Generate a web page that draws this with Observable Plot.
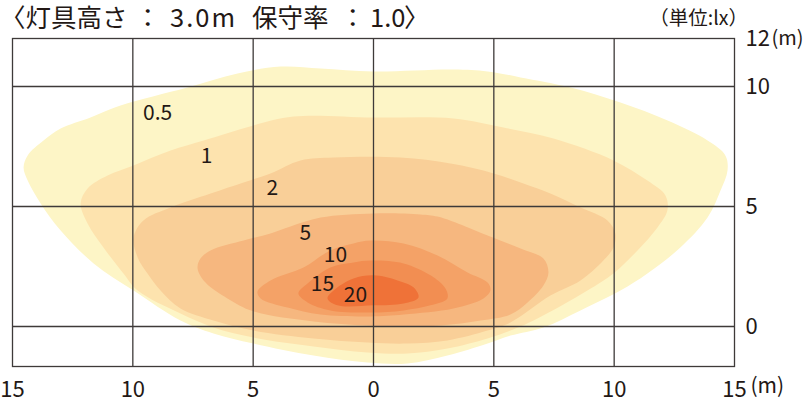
<!DOCTYPE html>
<html>
<head>
<meta charset="utf-8">
<script src="https://cdn.jsdelivr.net/npm/d3@7"></script>
<script src="https://cdn.jsdelivr.net/npm/@observablehq/plot@0.6"></script>
<style>
  html, body { margin: 0; padding: 0; background: #fff; }
  #wrap { position: relative; width: 804px; height: 402px; font-family: "Noto Sans CJK JP", "Noto Sans", sans-serif; color: #231815; }
  #title { position: absolute; left: 0; top: 0.5px; width: 460px; height: 34px; font-size: 25.5px; line-height: 1.2; white-space: nowrap; }
  #title span { position: absolute; top: 0; line-height: 1.2; }
  #unit { position: absolute; right: 56px; top: 7px; font-size: 19.5px; line-height: 1; white-space: nowrap; }
  #chart { position: absolute; left: 0; top: 0; }
</style>
</head>
<body>
<div id="wrap">
  <div id="chart"></div>
  <div id="title"><span style="left:0">〈灯具高さ</span><span style="left:135px">：</span><span style="left:170px;letter-spacing:2px">3.0m</span><span style="left:252px">保守率</span><span style="left:340px">：</span><span style="left:370px">1.0</span><span style="left:404px">〉</span></div>
  <div id="unit">（単位:lx）</div>
</div>
<script>
// Illuminance levels (lx) and band colours
const levels = [0.5, 1, 2, 5, 10, 15, 20];
const colors = ["#fdf5c6", "#fde3ae", "#f9cf98", "#f6b77f", "#f4a267", "#f28e52", "#ef7238"];

// Isolux contour outlines, [x (m), y (m)]
const c05 = [[-14.54,6.63],[-14.37,7.13],[-13.71,7.75],[-13.0,8.25],[-11.76,8.71],[-10.51,9.21],[-7.73,9.96],[-5.65,10.54],[-3.86,10.83],[-2.2,10.75],[0,10.63],[3.32,10.71],[4.74,10.63],[6.11,10.38],[8.19,9.96],[10.26,9.33],[12.22,8.58],[13.88,7.75],[14.62,7.13],[14.71,6.5],[14.42,5.67],[13.88,4.54],[12.75,3.29],[11.38,2.21],[10.26,1.5],[8.6,0.67],[7.06,-0.04],[5.69,-0.38],[4.74,-0.71],[3.07,-1.21],[1.41,-1.54],[-0.25,-1.5],[-2.49,-1.21],[-4.99,-0.71],[-6.65,-0.29],[-8.02,0.25],[-9.97,1.5],[-11.63,2.63],[-13.0,4.0],[-13.83,5.13],[-14.37,6.08]];
const c1 = [[-12.17,5.13],[-11.88,5.75],[-11.05,6.29],[-9.97,6.71],[-8.43,7.33],[-7.06,7.75],[-4.99,8.38],[-3.32,8.75],[0,8.71],[3.32,8.67],[5.4,8.29],[7.48,7.83],[9.97,6.92],[11.38,6.08],[12.13,5.46],[12.21,4.83],[11.8,4.13],[10.97,3.17],[9.97,2.21],[8.89,1.5],[6.65,0.25],[5.69,-0.17],[4.74,-0.5],[3.07,-0.92],[1.41,-1.13],[-0.25,-1.08],[-2.49,-0.83],[-4.99,-0.46],[-6.65,-0.04],[-8.02,0.54],[-9.8,1.5],[-10.39,2.21],[-11.22,3.29],[-11.88,4.29]];
const c2 = [[-9.97,3.71],[-9.56,4.42],[-8.43,4.96],[-6.77,5.54],[-5.4,6.0],[-4.28,6.38],[-3.03,6.92],[-1.66,7.04],[1.12,7.04],[3.2,6.79],[4.99,6.38],[6.23,5.96],[7.35,5.54],[8.6,4.96],[9.72,4.42],[10.05,3.88],[9.97,3.29],[9.55,2.75],[8.6,1.92],[7.35,1.29],[5.69,0.17],[4.74,-0.17],[3.07,-0.58],[1.41,-0.71],[-0.25,-0.67],[-2.49,-0.5],[-4.99,-0.17],[-6.65,0.25],[-8.02,0.75],[-8.85,1.5],[-9.39,2.21],[-9.8,2.88]];
const c5 = [[-7.31,2.42],[-7.19,2.83],[-6.77,3.17],[-5.4,3.58],[-4.28,3.88],[-3.45,4.17],[-2.2,4.54],[0,4.71],[1.95,4.67],[2.66,4.58],[3.82,4.17],[4.74,3.79],[6.11,3.25],[7.06,2.83],[7.27,2.25],[7.06,1.71],[6.4,1.0],[5.69,0.5],[4.45,0.25],[2.78,0.04],[1.12,0.0],[-0.25,0.04],[-2.49,0.21],[-4.99,0.63],[-6.07,1.17],[-6.98,1.83]];
const c10 = [[-4.82,1.46],[-4.28,1.92],[-2.91,2.46],[-1.79,3.17],[-0.83,3.46],[-0.12,3.58],[1.25,3.46],[2.66,2.96],[3.91,2.25],[4.74,1.83],[4.86,1.5],[4.57,1.17],[3.32,0.75],[1.25,0.5],[-0.12,0.42],[-2.2,0.5],[-3.57,0.79],[-4.69,1.17]];
const c15 = [[-3.12,1.38],[-2.74,1.79],[-1.79,2.46],[-0.83,2.67],[-0.12,2.75],[1.25,2.63],[2.37,2.13],[2.99,1.58],[3.07,1.17],[2.37,0.88],[1.25,0.67],[-0.12,0.58],[-1.79,0.67],[-2.74,1.0]];
const c20 = [[-1.91,1.17],[-1.66,1.5],[-0.83,2.0],[0,2.13],[1.0,1.92],[1.66,1.63],[1.87,1.21],[1.25,0.96],[0,0.88],[-1.5,0.88]];
const contours = [c05, c1, c2, c5, c10, c15, c20];

// Contour labels
const labelText = ["0.5", "1", "2", "5", "10", "15", "20"];
const labelX = [-8.97, -6.94, -4.2, -2.83, -1.58, -2.12, -0.75];
const labelY = [8.9, 7.08, 5.75, 3.88, 2.96, 1.75, 1.31];

// Axes
const xTicks = [-15, -10, -5, 0, 5, 10, 15];
const yTicks = [0, 5, 10, 12];
const xGrid = [-10, -5, 0, 5, 10];
const yGrid = [0, 5, 10];

const ink = "#231815";
const gridColor = "#3e3a39";

const bands = contours.map((c, i) => Plot.line(c, {
  x: d => d[0], y: d => d[1],
  fill: colors[i], stroke: "none",
  curve: "catmull-rom-closed"
}));

const labels = labelText.map((t, i) => ({t, x: labelX[i], y: labelY[i]}));

const chart = Plot.plot({
  width: 804,
  height: 402,
  marginLeft: 12,
  marginRight: 70,
  marginTop: 38,
  marginBottom: 36,
  x: {domain: [-15, 15]},
  y: {domain: [-1.667, 12]},
  style: {fontFamily: '"Noto Sans CJK JP", "Noto Sans", sans-serif', color: ink, background: "transparent"},
  marks: [
    ...bands,
    Plot.ruleX(xGrid, {stroke: gridColor, strokeWidth: 1.3}),
    Plot.ruleY(yGrid, {stroke: gridColor, strokeWidth: 1.3}),
    Plot.frame({stroke: gridColor, strokeWidth: 1.3}),
    Plot.text(labels, {x: "x", y: "y", text: "t", fontSize: 21, fill: ink}),
    Plot.axisX({anchor: "bottom", ticks: xTicks, tickFormat: d => String(Math.abs(d)), tickSize: 0, tickPadding: 15, fontSize: 22, fill: ink, label: null}),
    Plot.axisY({anchor: "right", ticks: yTicks, tickFormat: d => String(d), tickSize: 0, tickPadding: 11, fontSize: 22, fill: ink, label: null}),
    Plot.text([15], {x: d => d, frameAnchor: "bottom", text: () => "(m)", textAnchor: "start", dx: 16, dy: 26, fontSize: 21, fill: ink}),
    Plot.text([12], {y: d => d, frameAnchor: "right", text: () => "(m)", textAnchor: "start", dx: 37, fontSize: 20, fill: ink})
  ]
});
document.getElementById("chart").appendChild(chart);
</script>
</body>
</html>
